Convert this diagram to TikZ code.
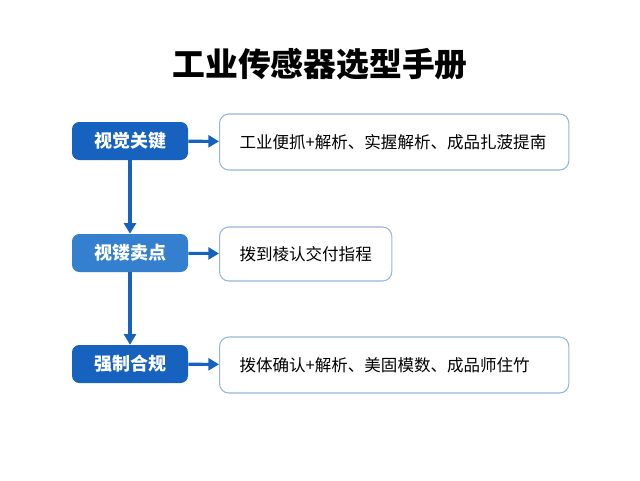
\documentclass[tikz,border=0pt]{standalone}
\usepackage{fontspec}
\setmainfont{Noto Sans CJK SC}
\usetikzlibrary{arrows.meta}
\definecolor{stepblue}{RGB}{22,98,190}
\definecolor{steplight}{RGB}{52,128,206}
\definecolor{edgeblue}{RGB}{150,182,218}
\tikzset{
  stagebox/.style={fill=#1, rounded corners=5.5pt, minimum width=87pt, minimum height=28.5pt,
    text=white, font=\fontsize{13.5pt}{15pt}\selectfont\bfseries, inner sep=0pt},
  infobox/.style={draw=edgeblue, line width=0.8pt, fill=white, rounded corners=7pt,
    anchor=west, inner xsep=15pt, font=\fontsize{12.4pt}{14pt}\selectfont, text=black},
  link/.style={draw=stepblue, line width=2.3pt, -{Triangle[length=8pt,width=9pt]}}
}
\begin{document}
\begin{tikzpicture}[x=0.75pt,y=-0.75pt]
      \useasboundingbox (0,0) rectangle (640,480);
      \draw
        (320,64) node (title){\fontsize{24.6pt}{28pt}\selectfont\bfseries 工业传感器选型手册}
        (130,141) node[stagebox=stepblue] (s1){视觉关键}
        (130,253) node[stagebox=steplight] (s2){视镂卖点}
        (130,364) node[stagebox=stepblue] (s3){强制合规}
        (219,142) node[infobox, minimum width=262pt, minimum height=42pt, text width=232pt, align=left] (d1){工业便抓+解析、实握解析、成品扎菠提南}
        (219,254) node[infobox, minimum width=128pt, minimum height=40.5pt] (d2){拨到棱认交付指程}
        (219,365) node[infobox, minimum width=262pt, minimum height=42pt, text width=232pt, align=left] (d3){拨体确认+解析、美固模数、成品师住竹};
      \begin{scope}[link]
        \draw (s1) to (d1);
        \draw (s2) to (d2);
        \draw (s3) to (d3);
        \draw (s1) to (s2);
        \draw (s2) to (s3);
      \end{scope}
    \end{tikzpicture}
\end{document}
